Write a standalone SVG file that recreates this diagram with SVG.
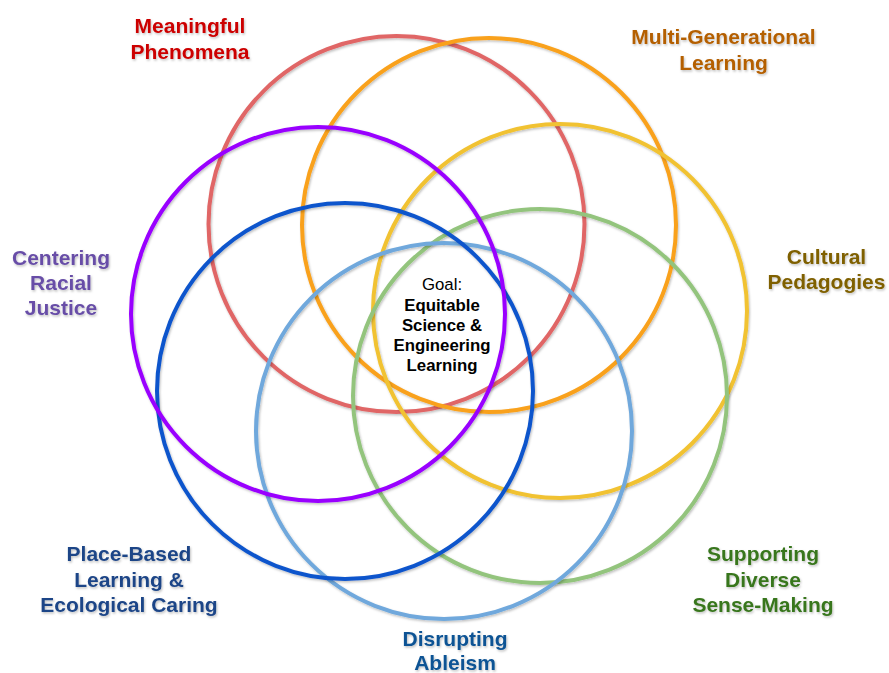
<svg xmlns="http://www.w3.org/2000/svg" width="889" height="673" viewBox="0 0 889 673">
<defs>
<filter id="sh" x="-10%" y="-10%" width="120%" height="120%">
<feDropShadow dx="1" dy="1.5" stdDeviation="1" flood-color="#000" flood-opacity="0.25"/>
</filter>
<style>
.ring{fill:none;stroke-width:4;filter:url(#sh)}
.lbl{font-family:"Liberation Sans",Arial,sans-serif;font-weight:bold;font-size:21px;text-anchor:middle;filter:url(#sh)}
.goal{font-family:"Liberation Sans",Arial,sans-serif;font-size:16.8px;text-anchor:middle;fill:#000}
</style>
</defs>
<rect width="889" height="673" fill="#fff"/>
<g id="circles">
<circle id="c-meaningful" class="ring" cx="396.5" cy="224" r="188" stroke="#e06666"/>
<circle id="c-multigen" class="ring" cx="489" cy="225" r="187" stroke="#f9a11b"/>
<circle id="c-cultural" class="ring" cx="560" cy="311" r="187" stroke="#f1c232"/>
<circle id="c-supporting" class="ring" cx="540" cy="396" r="187" stroke="#93c47d"/>
<circle id="c-ableism" class="ring" cx="444" cy="431" r="188" stroke="#6fa8dc"/>
<circle id="c-place" class="ring" cx="345" cy="391" r="188" stroke="#1155cc"/>
<circle id="c-racial" class="ring" cx="318" cy="314" r="187" stroke="#9900ff"/>
</g>
<g id="label-meaningful"><text class="lbl" fill="#cc0000"><tspan x="190" y="33">Meaningful</tspan><tspan x="190" y="59">Phenomena</tspan></text></g>
<g id="label-multigen"><text class="lbl" fill="#b45f06"><tspan x="723.5" y="44">Multi-Generational</tspan><tspan x="723.5" y="70">Learning</tspan></text></g>
<g id="label-cultural"><text class="lbl" fill="#7f6000"><tspan x="826.5" y="264">Cultural</tspan><tspan x="826.5" y="289">Pedagogies</tspan></text></g>
<g id="label-racial"><text class="lbl" fill="#674ea7"><tspan x="61" y="265">Centering</tspan><tspan x="61" y="290">Racial</tspan><tspan x="61" y="315">Justice</tspan></text></g>
<g id="label-place"><text class="lbl" fill="#1c4587"><tspan x="129" y="561">Place-Based</tspan><tspan x="129" y="587">Learning &amp;</tspan><tspan x="129" y="612">Ecological Caring</tspan></text></g>
<g id="label-supporting"><text class="lbl" fill="#38761d"><tspan x="763" y="561">Supporting</tspan><tspan x="763" y="587">Diverse</tspan><tspan x="763" y="612">Sense-Making</tspan></text></g>
<g id="label-ableism"><text class="lbl" fill="#0b5394"><tspan x="455" y="646">Disrupting</tspan><tspan x="455" y="670">Ableism</tspan></text></g>
<g id="goal"><text class="goal"><tspan x="442" y="290">Goal:</tspan><tspan x="442" y="311" font-weight="bold">Equitable</tspan><tspan x="442" y="331" font-weight="bold">Science &amp;</tspan><tspan x="442" y="351" font-weight="bold">Engineering</tspan><tspan x="442" y="371" font-weight="bold">Learning</tspan></text></g>
</svg>
